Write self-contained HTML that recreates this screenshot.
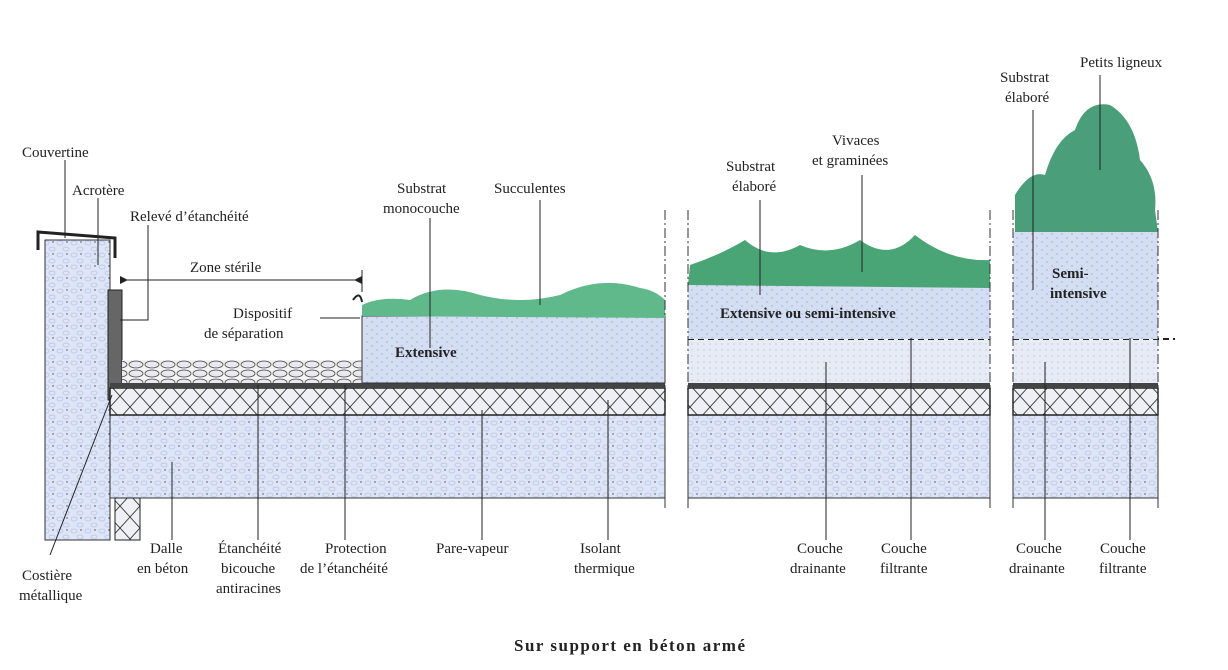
<!DOCTYPE html>
<html><head><meta charset="utf-8"><style>
html,body{margin:0;padding:0;background:#fff;}
svg{display:block;font-family:"Liberation Serif",serif;}
text{font-size:15px;fill:#222;}
.b{font-weight:bold;}
</style></head><body>
<svg width="1228" height="670" viewBox="0 0 1228 670">
<defs>
<pattern id="conc" width="14" height="12" patternUnits="userSpaceOnUse">
<rect width="14" height="12" fill="#dde5f6"/>
<ellipse cx="4" cy="3" rx="3" ry="2" fill="none" stroke="#b8c6e6" stroke-width="0.8"/>
<ellipse cx="10" cy="9" rx="3" ry="2" fill="none" stroke="#b8c6e6" stroke-width="0.8"/>
<circle cx="11" cy="2" r="0.7" fill="#445"/>
</pattern>
<pattern id="sub" width="10" height="8" patternUnits="userSpaceOnUse">
<rect width="10" height="8" fill="#d4def3"/>
<circle cx="2" cy="2" r="0.6" fill="#8898c0"/><circle cx="7" cy="6" r="0.6" fill="#8898c0"/>
</pattern>
<pattern id="drain" width="6" height="6" patternUnits="userSpaceOnUse">
<rect width="6" height="6" fill="#e6ebf6"/><circle cx="2" cy="2" r="0.5" fill="#99a"/>
</pattern>
<pattern id="ins" width="20" height="22" patternUnits="userSpaceOnUse">
<rect width="20" height="22" fill="#eef0f5"/>
<path d="M0 0L20 22M20 0L0 22" stroke="#333" stroke-width="0.9"/>
</pattern>
<pattern id="grav" width="16" height="9" patternUnits="userSpaceOnUse">
<rect width="16" height="9" fill="#f3f3f3"/>
<ellipse cx="8" cy="4.5" rx="7" ry="3.5" fill="#e8e8ee" stroke="#444" stroke-width="0.8"/>
</pattern>
</defs>

<g>
<rect x="45" y="240" width="65" height="300" fill="url(#conc)" stroke="#333"/>
<path d="M38 250 L38 232 L115 238 L115 258" fill="none" stroke="#222" stroke-width="3"/>
<rect x="108" y="290" width="14" height="110" fill="#666" stroke="#222"/>
<rect x="110" y="415" width="555" height="83" fill="url(#conc)" stroke="#333"/>
<rect x="110" y="388" width="555" height="27" fill="url(#ins)" stroke="#222" stroke-width="1.5"/>
<rect x="110" y="383" width="555" height="5" fill="#444"/>
<rect x="122" y="360" width="240" height="23" fill="url(#grav)"/>
<rect x="115" y="498" width="25" height="42" fill="url(#ins)" stroke="#222"/>
<rect x="362" y="316" width="303" height="67" fill="url(#sub)" stroke="#333"/>
<path d="M362 316 L362 305 Q380 296 410 300 Q440 282 480 295 Q520 305 560 295 Q600 275 640 288 Q655 290 665 300 L665 318 Z" fill="#5fb98b"/>
<path d="M353 300 Q360 290 362 302" fill="none" stroke="#222" stroke-width="2"/>
<text x="395" y="357" class="b">Extensive</text>
</g>

<g>
<rect x="688" y="415" width="302" height="83" fill="url(#conc)" stroke="#333"/>
<rect x="688" y="388" width="302" height="27" fill="url(#ins)" stroke="#222" stroke-width="1.5"/>
<rect x="688" y="383" width="302" height="5" fill="#444"/>
<rect x="688" y="340" width="302" height="43" fill="url(#drain)"/>
<line x1="688" y1="339" x2="990" y2="339" stroke="#222" stroke-width="2" stroke-dasharray="6,4"/>
<rect x="688" y="285" width="302" height="54" fill="url(#sub)"/>
<path d="M688 285 L690 265 Q720 255 745 240 Q770 262 800 245 Q830 258 860 240 Q890 262 915 235 Q950 262 990 260 L990 288 Z" fill="#4aa576"/>
<text x="720" y="318" class="b">Extensive ou semi-intensive</text>
</g>

<g>
<rect x="1013" y="415" width="145" height="83" fill="url(#conc)" stroke="#333"/>
<rect x="1013" y="388" width="145" height="27" fill="url(#ins)" stroke="#222" stroke-width="1.5"/>
<rect x="1013" y="383" width="145" height="5" fill="#444"/>
<rect x="1013" y="340" width="145" height="43" fill="url(#drain)"/>
<line x1="1013" y1="339" x2="1175" y2="339" stroke="#222" stroke-width="2" stroke-dasharray="6,4"/>
<rect x="1013" y="232" width="145" height="107" fill="url(#sub)"/>
<path d="M1015 232 L1015 195 Q1030 170 1045 175 Q1055 140 1075 130 Q1085 100 1110 105 Q1135 120 1140 160 Q1158 180 1155 210 L1158 232 Z" fill="#4a9e7a"/>
<text x="1052" y="278" class="b">Semi-</text>
<text x="1050" y="298" class="b">intensive</text>
</g>

<g stroke="#333" stroke-width="1" stroke-dasharray="10,3,2,3">
<line x1="665" y1="210" x2="665" y2="510"/><line x1="688" y1="210" x2="688" y2="510"/>
<line x1="990" y1="210" x2="990" y2="510"/><line x1="1013" y1="210" x2="1013" y2="510"/>
<line x1="1158" y1="210" x2="1158" y2="510"/>
</g>

<g stroke="#222" stroke-width="1" fill="none">
<path d="M65 160 L65 238"/><path d="M98 198 L98 265"/><path d="M148 225 L148 320 L120 320"/>
<path d="M120 280 L362 280"/><path d="M362 270 L362 292"/>
<path d="M320 318 L360 318"/><path d="M430 218 L430 348"/><path d="M540 200 L540 305"/>
<path d="M50 555 L112 395"/><path d="M172 462 L172 540"/><path d="M258 385 L258 540"/>
<path d="M345 385 L345 540"/><path d="M482 410 L482 540"/><path d="M608 400 L608 540"/>
<path d="M760 200 L760 295"/><path d="M862 175 L862 272"/><path d="M826 362 L826 540"/><path d="M911 338 L911 540"/>
<path d="M1033 110 L1033 290"/><path d="M1100 75 L1100 170"/><path d="M1045 362 L1045 540"/><path d="M1130 338 L1130 540"/>
</g>
<polygon points="120,276 120,284 128,280" fill="#222"/><polygon points="362,276 362,284 354,280" fill="#222"/>

<g>
<text x="22" y="157">Couvertine</text>
<text x="72" y="195">Acrotère</text>
<text x="130" y="221">Relevé d’étanchéité</text>
<text x="190" y="272">Zone stérile</text>
<text x="233" y="318">Dispositif</text>
<text x="204" y="338">de séparation</text>
<text x="397" y="193">Substrat</text>
<text x="383" y="213">monocouche</text>
<text x="494" y="193">Succulentes</text>
<text x="726" y="171">Substrat</text>
<text x="732" y="191">élaboré</text>
<text x="832" y="145">Vivaces</text>
<text x="812" y="165">et graminées</text>
<text x="1000" y="82">Substrat</text>
<text x="1005" y="102">élaboré</text>
<text x="1080" y="67">Petits ligneux</text>
<text x="150" y="553">Dalle</text>
<text x="137" y="573">en béton</text>
<text x="218" y="553">Étanchéité</text>
<text x="221" y="573">bicouche</text>
<text x="216" y="593">antiracines</text>
<text x="325" y="553">Protection</text>
<text x="300" y="573">de l’étanchéité</text>
<text x="436" y="553">Pare-vapeur</text>
<text x="580" y="553">Isolant</text>
<text x="574" y="573">thermique</text>
<text x="797" y="553">Couche</text>
<text x="790" y="573">drainante</text>
<text x="881" y="553">Couche</text>
<text x="880" y="573">filtrante</text>
<text x="1016" y="553">Couche</text>
<text x="1009" y="573">drainante</text>
<text x="1100" y="553">Couche</text>
<text x="1099" y="573">filtrante</text>
<text x="22" y="580">Costière</text>
<text x="19" y="600">métallique</text>
<text x="514" y="651" class="b" style="font-size:17px" textLength="231" lengthAdjust="spacing">Sur support en béton armé</text>
</g>
</svg>
</body></html>
